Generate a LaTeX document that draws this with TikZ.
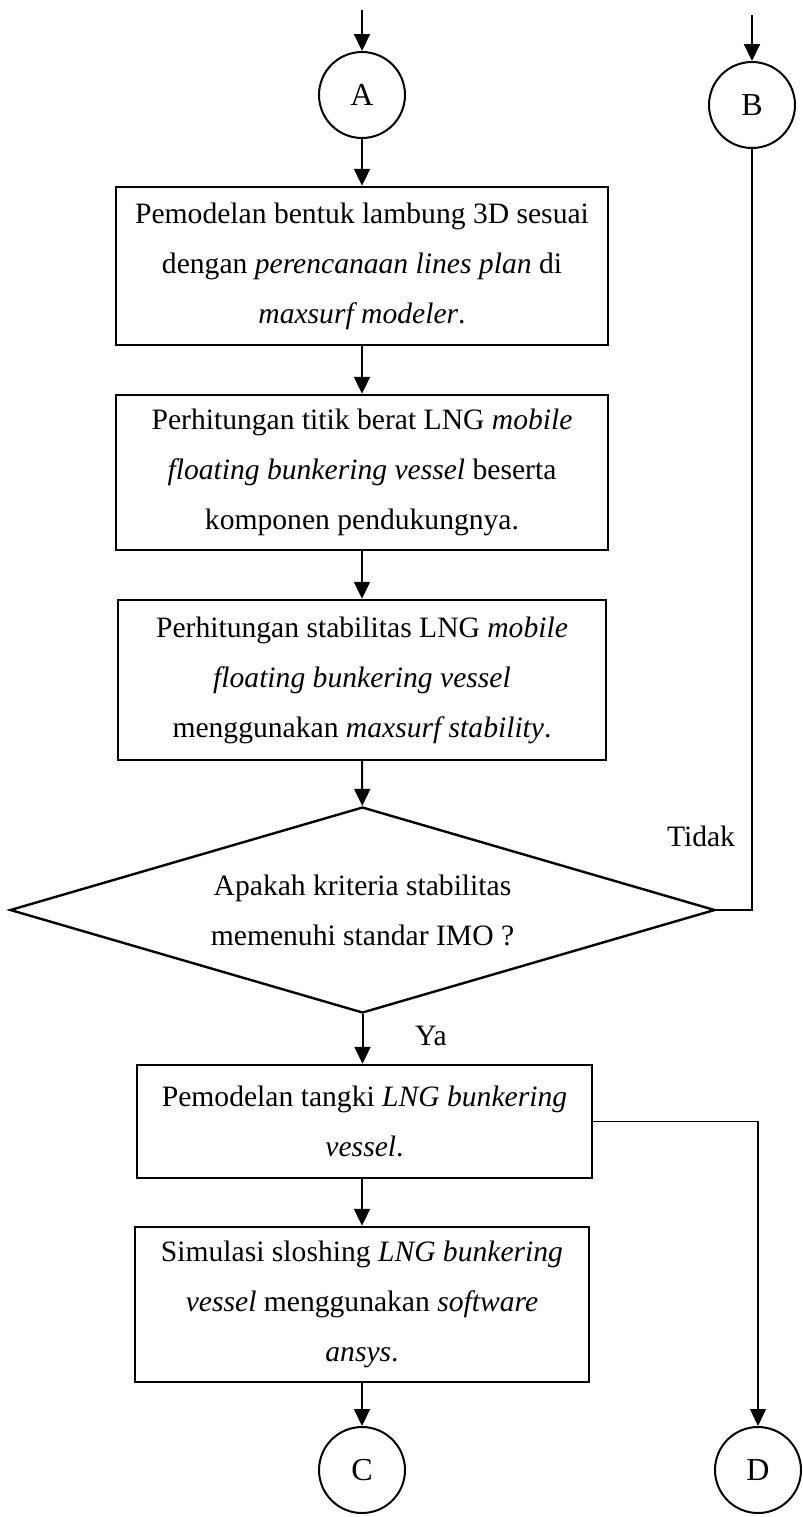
\documentclass[tikz,border=0pt]{standalone}
\usepackage{fontspec}
\setmainfont{Liberation Serif}
\usepackage{tikz}
\usetikzlibrary{shapes.geometric,arrows.meta}

\begin{document}
\begin{tikzpicture}[
    x=0.5pt, y=-0.5pt,
    box/.style={rectangle, draw, line width=1.2pt, align=center, inner sep=0pt, font=\fontsize{14.8}{25}\selectfont},
    decision/.style={diamond, draw, line width=1.2pt, align=center, inner sep=0pt, aspect=3.4, font=\fontsize{14.8}{25}\selectfont},
    onpage/.style={circle, draw, line width=1pt, minimum size=43pt, inner sep=0pt, font=\fontsize{16}{18}\selectfont},
    label/.style={font=\fontsize{14.8}{18}\selectfont},
    arrow/.style={-{Triangle[width=8pt,length=8.5pt]}, line width=1pt}
]
    \useasboundingbox (0,0) rectangle (803,1517);

    % Connectors in
    \coordinate (inA) at (362,10);
    \coordinate (inB) at (752,15);
    \node[onpage] (A) at (362,95) {A};
    \node[onpage] (B) at (752,105) {B};

    % Steps
    \node[box, minimum width=246pt, minimum height=79pt] (hull) at (362,266)
        {Pemodelan bentuk lambung 3D sesuai\\ dengan \textit{perencanaan lines plan} di\\ \textit{maxsurf modeler}.};
    \node[box, minimum width=246pt, minimum height=77.5pt] (weight) at (362,472.5)
        {Perhitungan titik berat LNG \textit{mobile}\\ \textit{floating bunkering vessel} beserta\\ komponen pendukungnya.};
    \node[box, minimum width=244pt, minimum height=80pt] (stab) at (362,680)
        {Perhitungan stabilitas LNG \textit{mobile}\\ \textit{floating bunkering vessel}\\ menggunakan \textit{maxsurf stability}.};

    % Check
    \node[decision, minimum width=352.5pt, minimum height=103pt] (imo) at (362.5,910)
        {Apakah kriteria stabilitas\\ memenuhi standar IMO ?};
    \node[label] (no) at (701,836) {Tidak};
    \node[label] (yes) at (431,1036) {Ya};

    \node[box, minimum width=227.5pt, minimum height=56.5pt] (tank) at (364.5,1121.5)
        {Pemodelan tangki \textit{LNG bunkering}\\ \textit{vessel}.};
    \node[box, minimum width=227pt, minimum height=77.5pt] (slosh) at (362,1304.5)
        {Simulasi sloshing \textit{LNG bunkering}\\ \textit{vessel} menggunakan \textit{software}\\ \textit{ansys}.};

    % Connectors out
    \node[onpage] (C) at (362,1470) {C};
    \node[onpage] (D) at (758,1470) {D};

    % Arrows
    \draw[arrow] (inA) -- (A);
    \draw[arrow] (inB) -- (B);
    \draw[arrow] (A) -- (hull);
    \draw[arrow] (hull) -- (weight);
    \draw[arrow] (weight) -- (stab);
    \draw[arrow] (stab) -- (imo);
    \draw[line width=1pt] (B) |- (imo.east);
    \draw[arrow] (imo.south) -- (tank.north -| imo.south);
    \draw[arrow] (tank.south -| slosh.north) -- (slosh);
    \draw[-{Triangle[width=8pt,length=8.5pt]}, line width=0.7pt] (tank.east) -| (D);
    \draw[arrow] (slosh) -- (C);
\end{tikzpicture}
\end{document}
